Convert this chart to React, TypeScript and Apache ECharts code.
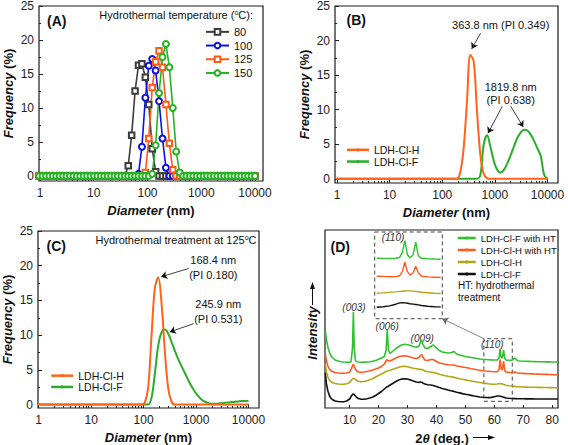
import React, { useEffect, useRef } from 'react';
import * as echarts from 'echarts';

const FONT = 'Liberation Sans, Arial, Helvetica, sans-serif';

// Size bins (nm)
const diameters = [
  0.9649, 1.117, 1.294, 1.499, 1.736, 2.01, 2.328, 2.696,
  3.122, 3.615, 4.187, 4.849, 5.615, 6.503, 7.531, 8.721,
  10.1, 11.7, 13.54, 15.69, 18.17, 21.04, 24.36, 28.21,
  32.67, 37.84, 43.82, 50.75, 58.77, 68.06, 78.82, 91.28,
  105.7, 122.4, 141.8, 164.2, 190.1, 220.2, 255.0, 295.3,
  342.0, 396.1, 458.7, 531.2, 615.1, 712.4, 825.0, 955.4,
  1106, 1281, 1484, 1718, 1990, 2305, 2669, 3091,
  3580, 4145, 4801, 5560, 6439, 7456, 8635, 10000,
];

// Panel A: hydrothermal temperatures
const tempNames = ['80', '100', '125', '150'];
const freq80 = [
  0, 0, 0, 0, 0, 0, 0, 0,
  0, 0, 0, 0, 0, 0, 0, 0,
  0, 0, 0, 0, 0, 0, 0, 0,
  0, 0, 1.5, 6.0, 12.5, 16.3, 16.5, 14.5,
  10.5, 4.0, 0.6, 0, 0, 0, 0, 0,
  0, 0, 0, 0, 0, 0, 0, 0,
  0, 0, 0, 0, 0, 0, 0, 0,
  0, 0, 0, 0, 0, 0, 0, 0,
];
const freq100 = [
  0, 0, 0, 0, 0, 0, 0, 0,
  0, 0, 0, 0, 0, 0, 0, 0,
  0, 0, 0, 0, 0, 0, 0, 0,
  0, 0, 0, 0, 0, 0.3, 4.3, 11.5,
  16.2, 17.2, 15.5, 11.0, 5.5, 1.2, 0, 0,
  0, 0, 0, 0, 0, 0, 0, 0,
  0, 0, 0, 0, 0, 0, 0, 0,
  0, 0, 0, 0, 0, 0, 0, 0,
];
const freq125 = [
  0, 0, 0, 0, 0, 0, 0, 0,
  0, 0, 0, 0, 0, 0, 0, 0,
  0, 0, 0, 0, 0, 0, 0, 0,
  0, 0, 0, 0, 0, 0, 0, 0.5,
  5.5, 13.0, 16.8, 18.4, 16.0, 10.5, 4.8, 0.9,
  0, 0, 0, 0, 0, 0, 0, 0,
  0, 0, 0, 0, 0, 0, 0, 0,
  0, 0, 0, 0, 0, 0, 0, 0,
];
const freq150 = [
  0, 0, 0, 0, 0, 0, 0, 0,
  0, 0, 0, 0, 0, 0, 0, 0,
  0, 0, 0, 0, 0, 0, 0, 0,
  0, 0, 0, 0, 0, 0, 0, 0,
  0, 0.3, 4.5, 12.2, 17.5, 19.4, 16.0, 10.0,
  3.6, 0.5, 0, 0, 0, 0, 0, 0,
  0, 0, 0, 0, 0, 0, 0, 0,
  0, 0, 0, 0, 0, 0, 0, 0,
];

// Panel B: without hydrothermal treatment
const freqBH = [
  0, 0, 0, 0, 0, 0, 0, 0,
  0, 0, 0, 0, 0, 0, 0, 0,
  0, 0, 0, 0, 0, 0, 0, 0,
  0, 0, 0, 0, 0, 0, 0, 0,
  0, 0, 0, 0, 0, 1.0, 4.4, 11.2,
  17.9, 17.0, 9.7, 3.4, 0.7, 0.1, 0, 0,
  0, 0, 0, 0, 0, 0, 0, 0,
  0, 0, 0, 0, 0, 0, 0, 0,
];
const freqBF = [
  0, 0, 0, 0, 0, 0, 0, 0,
  0, 0, 0, 0, 0, 0, 0, 0,
  0, 0, 0, 0, 0, 0, 0, 0,
  0, 0, 0, 0, 0, 0, 0, 0,
  0, 0, 0, 0, 0, 0, 0, 0,
  0, 0, 0, 0.6, 5.0, 6.3, 4.6, 2.6,
  1.3, 0.9, 1.3, 2.2, 3.4, 4.7, 5.9, 6.7,
  7.1, 7.0, 6.4, 5.5, 4.4, 3.3, 0.6, 0,
];

// Panel C: hydrothermal treatment at 125 °C
const freqCH = [
  0, 0, 0, 0, 0, 0, 0, 0,
  0, 0, 0, 0, 0, 0, 0, 0,
  0, 0, 0, 0, 0, 0, 0, 0,
  0, 0, 0, 0, 0, 0, 0, 0,
  0.3, 2.5, 10.0, 16.8, 18.3, 14.5, 7.5, 2.3,
  0.4, 0, 0, 0, 0, 0, 0, 0,
  0, 0, 0, 0, 0, 0, 0, 0,
  0, 0, 0, 0, 0, 0, 0, 0,
];
const freqCF = [
  0, 0, 0, 0, 0, 0, 0, 0,
  0, 0, 0, 0, 0, 0, 0, 0,
  0, 0, 0, 0, 0, 0, 0, 0,
  0, 0, 0, 0, 0, 0, 0, 0,
  0, 0, 1.0, 4.5, 8.5, 10.4, 10.8, 10.2,
  9.0, 7.7, 6.5, 5.5, 4.5, 3.5, 2.6, 1.8,
  1.2, 0.7, 0.4, 0.2, 0.1, 0.1, 0.15, 0.2,
  0.25, 0.3, 0.35, 0.4, 0.45, 0.5, 0.5, 0.5,
];

// Panel D: XRD (2θ in degrees, intensity offset-stacked, arbitrary units)
const twoTheta = [
  1.6, 2, 2.5, 3, 3.5, 4,
  5, 6, 7, 8, 9, 10,
  10.5, 11, 11.3, 11.6, 12, 12.5, 13,
  14, 15, 16, 17, 18, 19, 20, 21, 22,
  22.6, 23, 23.4,
  24, 25, 26, 27, 28, 29, 30, 31, 32, 33, 34,
  34.5, 34.9, 35.3,
  36, 37, 38,
  38.9,
  40, 41, 42, 43, 44, 45,
  46.1,
  47, 48, 49, 50, 51, 52, 53, 54, 55, 56, 57, 58, 59, 60, 61,
  61.6, 62, 62.4, 62.8, 63.2, 63.6,
  64, 65, 66,
  67.2,
  68, 69, 70, 71, 72, 73, 74, 75, 76, 77, 78, 79, 80, 81, 82,
];
const xrdFwithHT = [
  78, 68, 61, 56, 52.5, 50.5,
  48, 47, 46.3, 46, 45.8, 45.7,
  46.5, 60, 96, 60, 47.5, 46.3, 46,
  45.8, 45.9, 46, 46.3, 46.8, 47.6, 48.7, 50, 51.5,
  58, 78, 58,
  54.5, 57, 59.5, 61.5, 63, 63.7, 63.3, 62.5, 61.5, 60.8, 62,
  66, 68, 64,
  60, 59.5, 61.5,
  63,
  60, 57.5, 56, 55.5, 55, 55.2,
  56.5,
  54, 53, 52.3, 51.5, 51, 50.5, 50, 49.5, 49, 48.7, 48.5, 48.3, 48.1, 48, 48,
  50, 59, 50, 50.5, 58, 49.5,
  48, 47.8, 47.6,
  50,
  47.3, 47, 46.8, 46.7, 46.6, 46.5, 46.4, 46.3, 46.2, 46.2, 46.1, 46.1, 46, 46, 46,
];
const xrdHwithHT = [
  55, 47, 42, 39, 37.5, 36.5,
  35.5, 35, 34.8, 34.7, 35, 36,
  38.5, 42, 43.5, 42, 39, 37, 36,
  35.8, 36, 36.5, 37.2, 38, 39, 40, 41.5, 44,
  47, 48.5, 47,
  47, 48.5, 50, 51.2, 52, 52.3, 51.8, 51, 50, 49.5, 50.5,
  52.5, 53.5, 51,
  48, 47.5, 48.5,
  48.5,
  46.5, 45, 44.5, 43.8, 43.2, 43,
  43,
  42, 41.5, 41, 40.5, 40, 39.3, 38.8, 38.2, 37.8, 37.3, 37, 36.8, 36.5, 36.3, 36.3,
  38, 48.5, 38.5, 38.5, 47, 37.5,
  36, 35.6, 35.4,
  36,
  35, 34.8, 34.6, 34.4, 34.2, 34.1, 34, 33.9, 33.8, 33.7, 33.6, 33.5, 33.4, 33.3, 33.3,
];
const xrdH = [
  45, 36, 31, 28, 26.5, 25.5,
  24.5, 24, 23.8, 23.8, 24.2, 25.5,
  27.5, 29, 29.7, 29.5, 28.5, 27.5, 26.8,
  26.3, 26.5, 27.2, 28.2, 29.5, 31, 32.5, 34, 35.5,
  36.5, 37, 37.2,
  37.8, 38.8, 39.8, 40.8, 41.5, 41.8, 41.3, 40.5, 39.8, 39.2, 38.6,
  38.8, 38.5, 38,
  37, 36.3, 36,
  35.5,
  34.7, 33.8, 33, 32.3, 31.7, 31.2,
  30.6,
  30, 29.3, 28.7, 28.1, 27.5, 27, 26.5, 26, 25.5, 25, 24.6, 24.2, 23.9, 23.7, 24,
  24.3, 24.5, 24.3, 24, 23.6, 23.2,
  22.8, 22.3, 22,
  21.6,
  21.4, 21.2, 21, 20.9, 20.8, 20.7, 20.7, 20.6, 20.6, 20.5, 20.5, 20.4, 20.4, 20.3, 20.3,
];
const xrdF = [
  35, 24, 17, 12.5, 10, 8.5,
  7, 6.5, 6.3, 6.3, 7, 9,
  11.5, 13.5, 14, 13.5, 12, 10.5, 9.5,
  8.8, 8.8, 9.2, 10, 11, 12.5, 14.5, 16.5, 19,
  20.5, 21.3, 21.8,
  23, 24.8, 26.5, 28, 29, 29.3, 29, 28, 27, 26, 25.6,
  26, 25.8, 25,
  24, 23.3, 23,
  22.5,
  21.5, 20.5, 19.6, 18.8, 18, 17.3,
  16.6,
  15.8, 15.1, 14.4, 13.8, 13.2, 12.6, 12, 11.5, 11, 10.7, 10.5, 10.4, 10.6, 11.3, 12,
  12, 11.8, 11.5, 11.2, 10.8, 10.4,
  10, 9.7, 9.5,
  9.4,
  9.3, 9.2, 9.2, 9.1, 9.1, 9.1, 9, 9, 9, 9, 9, 9, 9, 9, 9,
];

// Inset of panel D: (110) region
const twoThetaInset = [55, 56, 57, 58, 58.6, 59, 59.4, 59.8, 60.2, 60.7, 61.1, 61.5, 62, 63, 64, 65];
const insetFwithHT = [60.5, 60.3, 60.2, 60.5, 61.5, 66, 78, 64, 61, 64, 76.5, 63, 60.5, 60, 59.7, 59.5];
const insetHwithHT = [42.5, 42.3, 42, 42.2, 43, 47, 56.5, 47, 43.5, 46, 52.5, 46, 42.5, 41.8, 41.5, 41.2];
const insetH = [25.5, 25.8, 26.3, 26.8, 27.3, 27.5, 27.7, 27.8, 27.8, 27.6, 27.3, 27, 26.5, 26, 25.5, 25.2];
const insetF = [11.5, 12, 12.8, 14.5, 15.8, 16, 15.8, 15.4, 15, 14.6, 14.2, 13.8, 13.2, 12.5, 12, 11.8];

const xLabelsLog = ['1', '10', '100', '1000', '10000'];
const yLabels = [0, 5, 10, 15, 20, 25];
const xLabelsD = [10, 20, 30, 40, 50, 60, 70, 80];

const C = {
  a80: '#3c3c3c', a100: '#0a10e0', a125: '#ff5a14', a150: '#22b422',
  orange: '#ff6418', green: '#2aae2a',
  dF_HT: '#2ec22e', dH_HT: '#ff5a1e', dH: '#b3a514', dF: '#111111',
};

const logPairs = (ys: number[]) => diameters.map((d, i) => [Math.log10(d), ys[i]]);
const pairs = (xs: number[], ys: number[]) => xs.map((x, i) => [x, ys[i]]);

const majorLog = [0, 1, 2, 3, 4];
const minorLog: number[] = [];
for (let k = 0; k < 4; k++) for (let m = 2; m <= 9; m++) minorLog.push(Math.log10(m * Math.pow(10, k)));
const minorY = [2.5, 7.5, 12.5, 17.5, 22.5];

const richTitle = {
  i: { fontStyle: 'italic', fontWeight: 'bold', fontSize: 13, fontFamily: FONT, color: '#111' },
  b: { fontWeight: 'bold', fontSize: 13, fontFamily: FONT, color: '#111' },
};

function logX(grid: number, min: number, max: number) {
  return [
    {
      type: 'value', gridIndex: grid, min, max, position: 'bottom',
      axisLine: { show: false, onZero: false }, splitLine: { show: false },
      axisTick: { show: true, inside: true, length: 4, customValues: majorLog, lineStyle: { color: '#222' } },
      axisLabel: {
        customValues: majorLog, fontSize: 12, color: '#222', margin: 6,
        formatter: (v: number) => xLabelsLog[Math.round(v)],
      },
      name: '{i|Diameter}{b| (nm)}', nameLocation: 'middle', nameGap: 23,
      nameTextStyle: { rich: richTitle },
    },
    {
      type: 'value', gridIndex: grid, min, max, position: 'bottom',
      axisLine: { show: false, onZero: false }, splitLine: { show: false },
      axisLabel: { show: false },
      axisTick: { show: true, inside: true, length: 2, customValues: minorLog, lineStyle: { color: '#222' } },
    },
  ];
}

function freqY(grid: number, min: number) {
  return [
    {
      type: 'value', gridIndex: grid, min, max: 25, position: 'left',
      axisLine: { show: false, onZero: false }, splitLine: { show: false },
      axisTick: { show: true, inside: true, length: 4, customValues: yLabels, lineStyle: { color: '#222' } },
      axisLabel: { customValues: yLabels, fontSize: 12, color: '#222', margin: 5 },
      name: '{i|Frequency}{b| (%)}', nameLocation: 'middle', nameGap: 24,
      nameTextStyle: { rich: richTitle },
    },
    {
      type: 'value', gridIndex: grid, min, max: 25, position: 'left',
      axisLine: { show: false, onZero: false }, splitLine: { show: false },
      axisLabel: { show: false },
      axisTick: { show: true, inside: true, length: 2, customValues: minorY, lineStyle: { color: '#222' } },
    },
  ];
}

const frame = { show: true, borderColor: '#1a1a1a', borderWidth: 1.2, backgroundColor: 'transparent' };

function txt(text: string, x: number, y: number, extra: any = {}) {
  return {
    type: 'text', silent: true,
    style: { text, x, y, fill: '#111', fontSize: 11, fontFamily: FONT, align: 'center', verticalAlign: 'middle', ...extra },
  };
}

const arrowLineStyle = { color: '#111', width: 0.8, type: 'solid' };

function buildOption() {
  const aSeries = [
    { name: tempNames[0], data: freq80, color: C.a80, symbol: 'emptyRect', size: 5.5 },
    { name: tempNames[1], data: freq100, color: C.a100, symbol: 'emptyCircle', size: 6 },
    { name: tempNames[2], data: freq125, color: C.a125, symbol: 'emptyRect', size: 5.5 },
    { name: tempNames[3], data: freq150, color: C.a150, symbol: 'emptyCircle', size: 6 },
  ].map((s) => ({
    type: 'line', name: s.name, xAxisIndex: 0, yAxisIndex: 0,
    data: logPairs(s.data), symbol: s.symbol, symbolSize: s.size, showAllSymbol: true,
    color: s.color,
    lineStyle: { color: s.color, width: 1.6 },
    itemStyle: { color: s.color, borderColor: s.color, borderWidth: 1.3 },
    emphasis: { disabled: true }, silent: true,
  }));

  const smoothLine = (name: string, xi: number, yi: number, ys: number[], color: string, extra: any = {}) => ({
    type: 'line', name, xAxisIndex: xi, yAxisIndex: yi, data: logPairs(ys),
    symbol: 'none', smooth: 0.35, color,
    lineStyle: { color, width: 2 }, emphasis: { disabled: true }, silent: true, ...extra,
  });

  const bSeries = [
    smoothLine('B: LDH-Cl-F', 2, 2, freqBF, C.green),
    smoothLine('B: LDH-Cl-H', 2, 2, freqBH, C.orange, {
      markLine: {
        silent: true, symbol: ['none', 'arrow'], symbolSize: 6, label: { show: false },
        lineStyle: arrowLineStyle, emphasis: { disabled: true },
        data: [
          [{ coord: [Math.log10(538), 21.1] }, { coord: [Math.log10(363.8), 18.8] }],
          [{ coord: [Math.log10(1384), 10.5] }, { coord: [Math.log10(741), 6.6] }],
          [{ coord: [Math.log10(2000), 10.5] }, { coord: [Math.log10(3467), 7.5] }],
        ],
      },
    }),
  ];

  const cSeries = [
    smoothLine('C: LDH-Cl-F', 4, 4, freqCF, C.green),
    smoothLine('C: LDH-Cl-H', 4, 4, freqCH, C.orange, {
      markLine: {
        silent: true, symbol: ['none', 'arrow'], symbolSize: 6, label: { show: false },
        lineStyle: arrowLineStyle, emphasis: { disabled: true },
        data: [
          [{ coord: [Math.log10(722), 19.6] }, { coord: [Math.log10(216), 18.4] }],
          [{ coord: [Math.log10(898), 11.65] }, { coord: [Math.log10(315), 10.45] }],
        ],
      },
    }),
  ];

  const xrdLine = (name: string, xi: number, yi: number, xs: number[], ys: number[], color: string, extra: any = {}) => ({
    type: 'line', name, xAxisIndex: xi, yAxisIndex: yi, data: pairs(xs, ys),
    symbol: 'none', color, lineStyle: { color, width: 1.6 }, emphasis: { disabled: true }, silent: true, ...extra,
  });

  const dSeries = [
    xrdLine('D: LDH-Cl-F', 6, 6, twoTheta, xrdF, C.dF, {
      markArea: {
        silent: true, label: { show: false },
        itemStyle: { color: 'rgba(0,0,0,0)', borderColor: '#444', borderWidth: 1, borderType: [4, 3] },
        data: [[{ coord: [56.4, 6.7] }, { coord: [66.2, 69.3] }]],
      },
      markLine: {
        silent: true, symbol: ['none', 'arrow'], symbolSize: 6, label: { show: false },
        lineStyle: { color: '#666', width: 0.8, type: 'solid' }, emphasis: { disabled: true },
        data: [[{ coord: [56.4, 69.3] }, { coord: [42.0, 89.3] }]],
      },
    }),
    xrdLine('D: LDH-Cl-H', 6, 6, twoTheta, xrdH, C.dH),
    xrdLine('D: LDH-Cl-H with HT', 6, 6, twoTheta, xrdHwithHT, C.dH_HT),
    xrdLine('D: LDH-Cl-F with HT', 6, 6, twoTheta, xrdFwithHT, C.dF_HT),
    xrdLine('inset F', 7, 7, twoThetaInset, insetF, C.dF, { lineStyle: { color: C.dF, width: 1.4 } }),
    xrdLine('inset H', 7, 7, twoThetaInset, insetH, C.dH, { lineStyle: { color: C.dH, width: 1.4 } }),
    xrdLine('inset H HT', 7, 7, twoThetaInset, insetHwithHT, C.dH_HT, { lineStyle: { color: C.dH_HT, width: 1.4 } }),
    xrdLine('inset F HT', 7, 7, twoThetaInset, insetFwithHT, C.dF_HT, { lineStyle: { color: C.dF_HT, width: 1.4 } }),
  ];

  const stripPrefix = (n: string) => n.replace(/^[A-Z]: /, '');

  return {
    animation: false,
    textStyle: { fontFamily: FONT },
    grid: [
      { left: 39, top: 6, width: 224, height: 175, ...frame },
      { left: 335, top: 6, width: 223, height: 177, ...frame },
      { left: 37, top: 231, width: 222, height: 177, ...frame },
      { left: 325, top: 230, width: 233, height: 178, ...frame },
      { left: 376.7, top: 232, width: 64, height: 86.7, show: false },
    ],
    xAxis: [
      ...logX(0, -0.0186, 4.149),
      ...logX(1, -0.038, 4.2),
      ...logX(2, -0.013, 4.2),
      {
        type: 'value', gridIndex: 3, min: 1.5, max: 82, position: 'bottom',
        axisLine: { show: false, onZero: false }, splitLine: { show: false },
        axisTick: { show: true, inside: true, length: 3, customValues: xLabelsD, lineStyle: { color: '#222' } },
        axisLabel: { customValues: xLabelsD, fontSize: 12, color: '#222', margin: 6 },
      },
      { type: 'value', gridIndex: 4, min: 55, max: 65, show: false },
    ],
    yAxis: [
      ...freqY(0, -0.75),
      ...freqY(1, -0.6),
      ...freqY(2, -0.5),
      { type: 'value', gridIndex: 3, min: 0, max: 178, show: false },
      { type: 'value', gridIndex: 4, min: 0, max: 86.7, show: false },
    ],
    legend: [
      {
        data: tempNames, orient: 'vertical', left: 205, top: 25, padding: 0, itemGap: 0,
        itemWidth: 23, itemHeight: 7, selectedMode: false,
        textStyle: { fontSize: 11, lineHeight: 13.7, color: '#111', fontFamily: FONT },
      },
      {
        data: ['B: LDH-Cl-H', 'B: LDH-Cl-F'], orient: 'vertical', left: 345.7, top: 144, padding: 0, itemGap: 0,
        itemWidth: 22, itemHeight: 4, selectedMode: false, formatter: stripPrefix,
        lineStyle: { width: 2.5 },
        textStyle: { fontSize: 10.5, lineHeight: 11.7, color: '#111', fontFamily: FONT },
      },
      {
        data: ['C: LDH-Cl-H', 'C: LDH-Cl-F'], orient: 'vertical', left: 50, top: 370, padding: 0, itemGap: 0,
        itemWidth: 22, itemHeight: 4, selectedMode: false, formatter: stripPrefix,
        lineStyle: { width: 2.5 },
        textStyle: { fontSize: 10.5, lineHeight: 11.3, color: '#111', fontFamily: FONT },
      },
      {
        data: ['D: LDH-Cl-F with HT', 'D: LDH-Cl-H with HT', 'D: LDH-Cl-H', 'D: LDH-Cl-F'],
        orient: 'vertical', left: 456.5, top: 232, padding: 0, itemGap: 0,
        itemWidth: 18, itemHeight: 4, selectedMode: false, formatter: stripPrefix,
        lineStyle: { width: 2.5 },
        textStyle: { fontSize: 9.5, lineHeight: 12, color: '#111', fontFamily: FONT },
      },
    ],
    series: [...aSeries, ...bSeries, ...cSeries, ...dSeries],
    graphic: [
      // panel labels
      txt('(A)', 47, 21, { fontSize: 14, fontWeight: 'bold', align: 'left' }),
      txt('(B)', 346.5, 20, { fontSize: 14, fontWeight: 'bold', align: 'left' }),
      txt('(C)', 46.5, 245.5, { fontSize: 14, fontWeight: 'bold', align: 'left' }),
      txt('(D)', 330.5, 247, { fontSize: 14, fontWeight: 'bold', align: 'left' }),
      // panel A header
      {
        type: 'text', silent: true,
        style: {
          text: '{n|Hydrothermal temperature (}{s|o}{n|C):}', x: 253, y: 15, align: 'right', verticalAlign: 'middle',
          rich: {
            n: { fontSize: 11, fontFamily: FONT, fill: '#111', lineHeight: 13 },
            s: { fontSize: 7, fontFamily: FONT, fill: '#111', verticalAlign: 'top', lineHeight: 13 },
          },
        },
      },
      // panel B annotations
      txt('363.8 nm (PI 0.349)', 500.7, 25),
      txt('1819.8 nm', 510.7, 87),
      txt('(PI 0.638)', 510.7, 100),
      // panel C annotations
      {
        type: 'text', silent: true,
        style: {
          text: '{n|Hydrothermal treatment at 125}{s|o}{n|C}', x: 256.5, y: 240, align: 'right', verticalAlign: 'middle',
          rich: {
            n: { fontSize: 11, fontFamily: FONT, fill: '#111', lineHeight: 13 },
            s: { fontSize: 7, fontFamily: FONT, fill: '#111', verticalAlign: 'top', lineHeight: 13 },
          },
        },
      },
      txt('168.4 nm', 213.3, 260.3),
      txt('(PI 0.180)', 213.3, 274.7),
      txt('245.9 nm', 218.3, 303.7),
      txt('(PI 0.531)', 218.3, 318.7),
      // panel D annotations
      txt('(003)', 354, 307, { fontStyle: 'italic', fontSize: 10, fill: '#333' }),
      txt('(006)', 387.3, 326, { fontStyle: 'italic', fontSize: 10, fill: '#333' }),
      txt('(009)', 422.3, 338.7, { fontStyle: 'italic', fontSize: 10, fill: '#333' }),
      txt('(110)', 492.3, 344.7, { fontStyle: 'italic', fontSize: 10, fill: '#333' }),
      txt('(110)', 393, 237, { fontStyle: 'italic', fontSize: 10, fill: '#333' }),
      txt('HT: hydrothermal', 458, 285.3, { align: 'left', fontSize: 10 }),
      txt('treatment', 458, 297, { align: 'left', fontSize: 10 }),
      {
        type: 'rect', silent: true,
        shape: { x: 374.7, y: 232, width: 67.6, height: 86.7 },
        style: { fill: 'none', stroke: '#444', lineWidth: 1, lineDash: [4, 3] },
      },
      // D axis titles
      {
        type: 'text', silent: true, x: 312.5, y: 333, rotation: Math.PI / 2,
        style: { text: 'Intensity', x: 0, y: 0, align: 'center', verticalAlign: 'middle', fontSize: 13, fontWeight: 'bold', fontStyle: 'italic', fontFamily: FONT, fill: '#111' },
      },
      { type: 'line', silent: true, shape: { x1: 312.5, y1: 305, x2: 312.5, y2: 287 }, style: { stroke: '#111', lineWidth: 1 } },
      { type: 'polygon', silent: true, shape: { points: [[312.5, 282], [310, 289], [315, 289]] }, style: { fill: '#111' } },
      {
        type: 'text', silent: true,
        style: {
          text: '{b|2}{i|θ}{b| (deg.)}', x: 442, y: 438.5, align: 'center', verticalAlign: 'middle',
          rich: {
            b: { fontSize: 13, fontWeight: 'bold', fontFamily: FONT, fill: '#111' },
            i: { fontSize: 13, fontWeight: 'bold', fontStyle: 'italic', fontFamily: FONT, fill: '#111' },
          },
        },
      },
      { type: 'line', silent: true, shape: { x1: 473, y1: 437.5, x2: 490, y2: 437.5 }, style: { stroke: '#111', lineWidth: 1 } },
      { type: 'polygon', silent: true, shape: { points: [[495, 437.5], [488, 435], [488, 440]] }, style: { fill: '#111' } },
    ],
  };
}

export default function App() {
  const ref = useRef<HTMLDivElement>(null);
  useEffect(() => {
    document.body.style.margin = '0';
    const chart = echarts.init(ref.current as HTMLDivElement, null, { renderer: 'svg' });
    chart.setOption(buildOption() as any);
    return () => chart.dispose();
  }, []);
  return <div ref={ref} style={{ width: 568, height: 445 }} />;
}
